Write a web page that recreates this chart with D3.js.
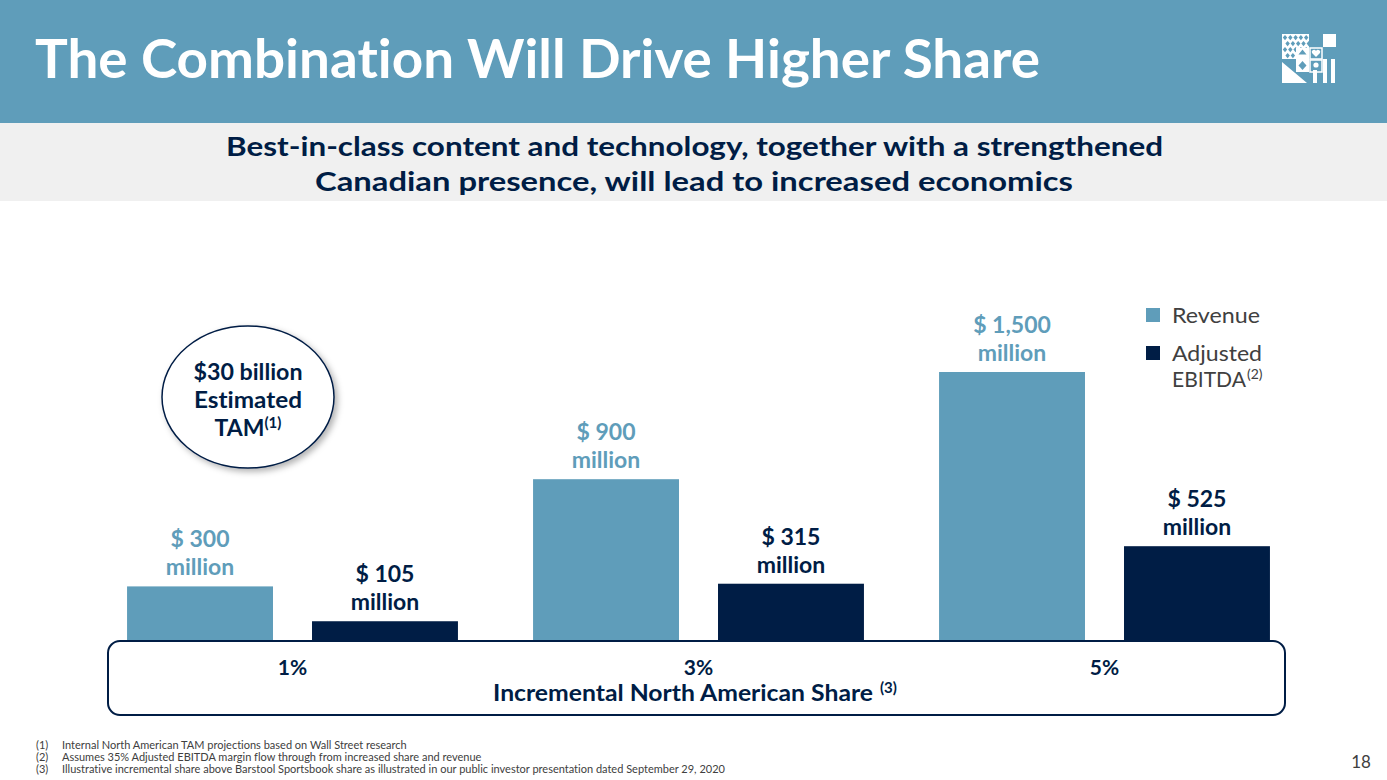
<!DOCTYPE html>
<html><head><meta charset="utf-8">
<script src="https://cdn.jsdelivr.net/npm/d3@7"></script>
<style>body{margin:0;background:#fff;}svg{display:block;font-family:"Lato","Open Sans",sans-serif;font-variant-ligatures:none;}</style>
</head><body><svg id="c" width="1387" height="780"></svg>
<script>
const categories = ["1%", "3%", "5%"];
const seriesNames = ["Revenue", "Adjusted EBITDA"];
const revenue = [300, 900, 1500];
const ebitda = [105, 315, 525];
const valueLabels = [["$ 300", "$ 900", "$ 1,500"], ["$ 105", "$ 315", "$ 525"]];
const footnotes = [
  ["(1)", "Internal North American TAM projections based on Wall Street research"],
  ["(2)", "Assumes 35% Adjusted EBITDA margin flow through from increased share and revenue"],
  ["(3)", "Illustrative incremental share above Barstool Sportsbook share as illustrated in our public investor presentation dated September 29, 2020"]
];

const LIGHT = "#5f9dba", NAVY = "#001d45", GRAY = "#404040";
const svg = d3.select("#c");

function stretch(sel, w) {
  sel.attr("textLength", w).attr("lengthAdjust", "spacingAndGlyphs");
}

// header
svg.append("rect").attr("x",0).attr("y",0).attr("width",1387).attr("height",123).attr("fill",LIGHT);
svg.append("text").attr("x",35).attr("y",78).attr("fill","#fff").attr("font-weight","bold")
  .attr("font-size",53).text("The Combination Will Drive Higher Share").call(s=>stretch(s,1005));

// logo
const lg = svg.append("g").attr("transform","translate(1282,34)");
const W = "#fff";
lg.append("rect").attr("x",0).attr("y",0).attr("width",27).attr("height",25).attr("fill",W);
for(let r=0;r<4;r++)for(let k=0;k<5;k++) lg.append("path").attr("d",`M${3+k*5.3+(r%2)*2.6},${1+r*6} l2.2,2.6 l-2.2,2.6 l-2.2,-2.6z`).attr("fill",LIGHT);
lg.append("rect").attr("x",14).attr("y",14).attr("width",13).attr("height",11).attr("fill",W);
lg.append("path").attr("d","M20.5,15.5 l4,5 l-8,0z").attr("fill",LIGHT);
lg.append("rect").attr("x",41).attr("y",0).attr("width",13).attr("height",13).attr("fill",W);
lg.append("rect").attr("x",28).attr("y",14).attr("width",12).attr("height",11).attr("fill","none").attr("stroke",W).attr("stroke-width",1.5);
lg.append("path").attr("d","M34,23 l-4,-4 a2,2 0 0 1 4,-2 a2,2 0 0 1 4,2z").attr("fill",W);
lg.append("rect").attr("x",14).attr("y",25).attr("width",13).attr("height",13).attr("fill",W);
lg.append("path").attr("d","M20.5,27 l4,4.5 l-4,4.5 l-4,-4.5z").attr("fill",LIGHT);
lg.append("rect").attr("x",28).attr("y",26).attr("width",12).attr("height",12).attr("fill","none").attr("stroke",W).attr("stroke-width",1.5);
lg.append("circle").attr("cx",34).attr("cy",31).attr("r",2.6).attr("fill",W);
lg.append("path").attr("d","M0,28 L0,49 L25,49 Z").attr("fill",W);
[[31,36],[41,25],[49,25]].forEach(([x,yy])=>lg.append("rect").attr("x",x).attr("y",yy).attr("width",4).attr("height",49-yy).attr("fill",W));

// subtitle band
svg.append("rect").attr("x",0).attr("y",123).attr("width",1387).attr("height",78).attr("fill","#f0f0f0");
svg.append("text").attr("x",226).attr("y",156).attr("fill",NAVY).attr("font-weight","bold")
  .attr("font-size",27).text("Best-in-class content and technology, together with a strengthened").call(s=>stretch(s,937));
svg.append("text").attr("x",315).attr("y",191).attr("fill",NAVY).attr("font-weight","bold")
  .attr("font-size",27).text("Canadian presence, will lead to increased economics").call(s=>stretch(s,758));

// scales
const x0 = d3.scaleBand().domain(categories).range([89.5,1307.5]).paddingInner(0.185).paddingOuter(0.0925);
const x1 = d3.scaleBand().domain(seriesNames).range([0,x0.bandwidth()]).paddingInner(0.211).paddingOuter(0);
const y = d3.scaleLinear().domain([0,1500]).range([640,372]);
const color = d3.scaleOrdinal().domain(seriesNames).range([LIGHT,NAVY]);

const data = categories.map((c,i)=>({cat:c, vals:[{s:seriesNames[0],v:revenue[i],lab:valueLabels[0][i]},{s:seriesNames[1],v:ebitda[i],lab:valueLabels[1][i]}]}));
const g = svg.append("g");
const grp = g.selectAll("g.grp").data(data).join("g").attr("transform",d=>`translate(${x0(d.cat)},0)`);
grp.selectAll("rect").data(d=>d.vals).join("rect")
  .attr("x",d=>x1(d.s)).attr("width",x1.bandwidth()).attr("y",d=>y(d.v)).attr("height",d=>y(0)-y(d.v)).attr("fill",d=>color(d.s));
grp.selectAll("text.l1").data(d=>d.vals).join("text").attr("class","l1")
  .attr("x",d=>x1(d.s)+x1.bandwidth()/2).attr("y",d=>y(d.v)-39).attr("text-anchor","middle")
  .attr("fill",d=>color(d.s)).attr("font-weight","bold").attr("font-size",23).text(d=>d.lab);
grp.selectAll("text.l2").data(d=>d.vals).join("text").attr("class","l2")
  .attr("x",d=>x1(d.s)+x1.bandwidth()/2).attr("y",d=>y(d.v)-11).attr("text-anchor","middle")
  .attr("fill",d=>color(d.s)).attr("font-weight","bold").attr("font-size",23).text("million");

// axis box
svg.append("rect").attr("x",108).attr("y",641).attr("width",1177).attr("height",74).attr("rx",12)
  .attr("fill","#fff").attr("stroke",NAVY).attr("stroke-width",2);
const ax = svg.append("g").attr("transform","translate(0,641)")
  .call(d3.axisBottom(x0).tickSize(0).tickPadding(0));
ax.select(".domain").remove();
ax.selectAll("text").attr("dy",0).attr("y",34).attr("fill",NAVY).attr("font-weight","bold").attr("font-size",21).attr("font-family","Lato");
const at = svg.append("text").attr("x",493).attr("y",701).attr("fill",NAVY).attr("font-weight","bold").attr("font-size",22);
at.append("tspan").text("Incremental North American Share").call(s=>stretch(s,380));
at.append("tspan").attr("x",880).attr("font-size",15).attr("dy",-8).text("(3)");

// ellipse callout
const defs = svg.append("defs");
const f = defs.append("filter").attr("id","sh").attr("x","-20%").attr("y","-20%").attr("width","150%").attr("height","150%");
f.append("feDropShadow").attr("dx",3).attr("dy",3).attr("stdDeviation",3).attr("flood-color","#000").attr("flood-opacity",0.3);
svg.append("ellipse").attr("cx",248).attr("cy",397).attr("rx",86).attr("ry",71).attr("fill","#fff").attr("stroke",NAVY).attr("stroke-width",1.5).attr("filter","url(#sh)");
[["$30 billion",380,109],["Estimated",408,108]].forEach(([t,yy,w])=>svg.append("text").attr("x",248-w/2).attr("y",yy).attr("fill",NAVY).attr("font-weight","bold").attr("font-size",23).text(t).call(s=>stretch(s,w)));
const tam = svg.append("text").attr("x",248).attr("y",436).attr("text-anchor","middle").attr("fill",NAVY).attr("font-weight","bold").attr("font-size",23);
tam.append("tspan").text("TAM");
tam.append("tspan").attr("font-size",15).attr("dy",-8).text("(1)");

// legend
const leg = svg.append("g").attr("transform","translate(1146,308)");
leg.append("rect").attr("x",0).attr("y",0).attr("width",14).attr("height",14).attr("fill",LIGHT);
leg.append("text").attr("x",26).attr("y",15).attr("font-size",21).attr("fill",GRAY).text("Revenue").call(s=>stretch(s,88));
leg.append("rect").attr("x",0).attr("y",38).attr("width",14).attr("height",14).attr("fill",NAVY);
leg.append("text").attr("x",26).attr("y",53).attr("font-size",21).attr("fill",GRAY).text("Adjusted").call(s=>stretch(s,90));
const eb = leg.append("text").attr("x",26).attr("y",79).attr("font-size",21).attr("fill",GRAY);
eb.append("tspan").text("EBITDA").call(s=>stretch(s,74));
eb.append("tspan").attr("x",101).attr("font-size",14).attr("dy",-8).text("(2)");

// footnotes
footnotes.forEach(([n,t],i)=>{
  svg.append("text").attr("x",36).attr("y",749+i*12).attr("font-size",11).attr("fill",GRAY).text(n);
  svg.append("text").attr("x",62).attr("y",749+i*12).attr("font-size",11).attr("fill",GRAY).text(t);
});
svg.append("text").attr("x",1361).attr("y",768).attr("text-anchor","middle").attr("font-size",17).attr("fill",GRAY).text("18");
</script></body></html>
